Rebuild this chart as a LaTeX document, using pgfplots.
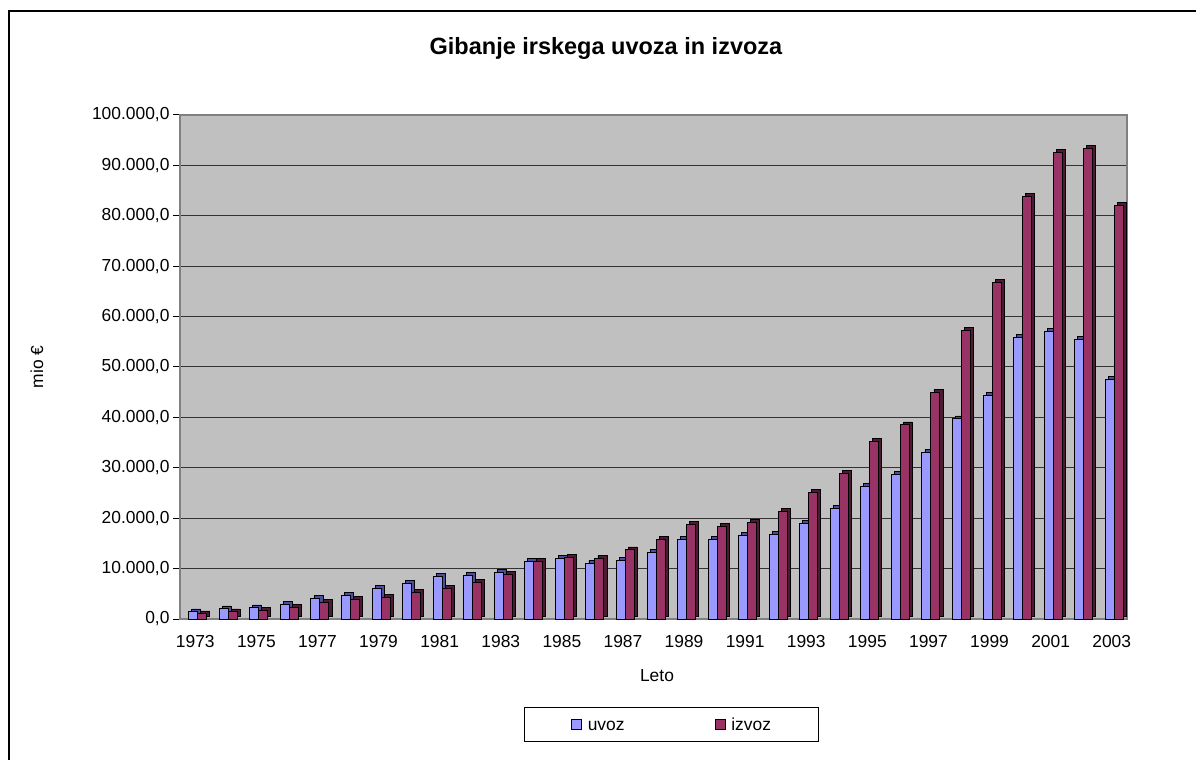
\documentclass[border=0pt]{standalone}
\usepackage{pgfplots}
\usepackage{pgfplotstable}
\pgfplotsset{compat=1.18}
\usepackage{fontspec}
\setmainfont{Liberation Sans}
\definecolor{uvoz}{HTML}{9999FF}
\definecolor{uvozdark}{HTML}{4D4D99}
\definecolor{izvoz}{HTML}{993366}
\definecolor{izvozdark}{HTML}{4D1A33}
\definecolor{wall}{HTML}{C0C0C0}
\pgfplotstableread{
x uvoz izvoz
0 1400 1000
1 2000 1400
2 2200 1700
3 2900 2300
4 4000 3200
5 4700 3900
6 6000 4300
7 7000 5300
8 8500 6000
9 8700 7300
10 9300 8800
11 11400 11400
12 12100 12300
13 11100 12000
14 11700 13700
15 13200 15800
16 15800 18800
17 15800 18300
18 16500 19100
19 16700 21400
20 19000 25100
21 22000 28900
22 26300 35300
23 28600 38500
24 33000 44900
25 39700 57200
26 44300 66800
27 55800 83800
28 57100 92500
29 55500 93400
30 47500 82000
}\data
\begin{document}
\begin{tikzpicture}[x=1pt,y=1pt]
\useasboundingbox (0,0) rectangle (1196,760);
\draw[line width=2pt] (9,0) -- (9,749) -- (1197,749);
\begin{axis}[
  at={(180pt,141pt)}, anchor=south west,
  scale only axis, width=947pt, height=504pt,
  xmin=-0.5, xmax=30.5, ymin=0, ymax=100000,
  axis background/.style={fill=wall},
  axis line style={draw=black!50, line width=1.2pt},
  ytick={0,10000,...,100000},
  ytick pos=left, xtick pos=bottom,
  scaled y ticks=false,
  /pgf/number format/.cd, fixed, fixed zerofill, precision=1, use comma, 1000 sep={.}, assume math mode=true,
  /pgfplots/.cd,
  ymajorgrids, grid style={draw=black!80, line width=1pt},
  tick align=outside,
  ytick style={draw=black, line width=1pt},
  major tick length=7pt,
  xtick={0,2,...,30},
  xticklabels={1973,1975,1977,1979,1981,1983,1985,1987,1989,1991,1993,1995,1997,1999,2001,2003},
  xtick style={draw=none},
  extra x ticks={-0.5,0.5,...,30.5},
  extra x tick labels={},
  extra x tick style={tick style={draw=black, line width=1pt}, grid=none},
  tick label style={font=\fontsize{17.4}{20}\selectfont},
  xticklabel style={yshift=-6pt},
  title={\fontsize{23.5}{28}\selectfont\bfseries Gibanje irskega uvoza in izvoza},
  title style={at={(axis description cs:0.4498,1.121)}, anchor=center},
  xlabel={Leto},
  xlabel style={font=\fontsize{17.4}{20}\selectfont, at={(axis description cs:0.5037,-0.1131)}, anchor=center},
  ylabel={mio €},
  ylabel style={font=\fontsize{17.4}{20}\selectfont, at={(axis description cs:-0.151,0.5)}, anchor=center},
  legend columns=2,
  legend style={at={(0.5195,-0.2093)}, anchor=center, draw=black, line width=1pt,
    font=\fontsize{17.4}{20}\selectfont, inner xsep=46pt, inner ysep=7.5pt,
    /tikz/every odd column/.append style={column sep=4pt},
    /tikz/every even column/.append style={column sep=88pt}},
]
\addplot[ybar, bar width=9pt, bar shift=1pt, fill=uvozdark, draw=black, line width=0.8pt, yshift=3pt, forget plot] table[x=x,y=uvoz]{\data};
\addplot[ybar, bar width=9pt, bar shift=-2pt, fill=uvoz, draw=black, line width=1pt,
  legend image code/.code={\draw[fill=uvoz,draw=black,line width=0.8pt] (0pt,-5pt) rectangle (10pt,5pt);}] table[x=x,y=uvoz]{\data};
\addplot[ybar, bar width=9pt, bar shift=10pt, fill=izvozdark, draw=black, line width=0.8pt, yshift=3pt, forget plot] table[x=x,y=izvoz]{\data};
\addplot[ybar, bar width=9pt, bar shift=7pt, fill=izvoz, draw=black, line width=1pt,
  legend image code/.code={\draw[fill=izvoz,draw=black,line width=0.8pt] (0pt,-5pt) rectangle (10pt,5pt);}] table[x=x,y=izvoz]{\data};
\legend{\strut uvoz,\strut izvoz}
\end{axis}
\end{tikzpicture}
\end{document}
